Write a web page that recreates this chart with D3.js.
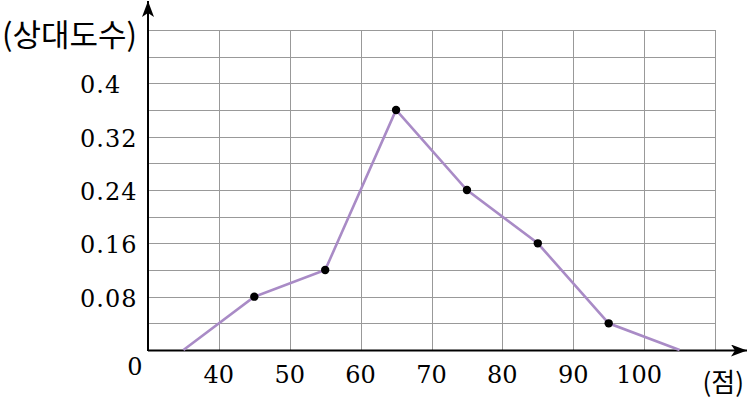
<!DOCTYPE html>
<html>
<head>
<meta charset="utf-8">
<script src="https://cdn.jsdelivr.net/npm/d3@7"></script>
<style>
  body { margin: 0; background: #fff; }
  svg { display: block; }
  .num { font-family: "DejaVu Serif", serif; }
  .kr { font-family: "Noto Sans CJK KR", sans-serif; }
</style>
</head>
<body>
<div id="chart"></div>
<script>
// frequency polygon: class midpoints and relative frequencies
const scores = [35, 45, 55, 65, 75, 85, 95, 105];
const relFreq = [0, 0.08, 0.12, 0.36, 0.24, 0.16, 0.04, 0];
const xTicks = [40, 50, 60, 70, 80, 90, 100];
const yTicks = [0.08, 0.16, 0.24, 0.32, 0.4];
const yTickLabels = ["0.08", "0.16", "0.24", "0.32", "0.4"];

const width = 750, height = 398;
const x0 = 148, y0 = 350;

const svg = d3.select("#chart").append("svg")
    .attr("width", width)
    .attr("height", height);

const x = d3.scaleLinear().domain([30, 110]).range([x0, 715]);
const y = d3.scaleLinear().domain([0, 0.48]).range([y0, 30]);

const grid = svg.append("g").attr("class", "grid")
    .attr("stroke", "#999")
    .attr("stroke-width", 1);

// horizontal grid every 0.04
grid.selectAll(".h")
    .data(d3.range(1, 13).map(i => i * 0.04))
    .enter().append("line")
    .attr("x1", x0).attr("x2", x(110))
    .attr("y1", d => Math.round(y(d)) + 0.5)
    .attr("y2", d => Math.round(y(d)) + 0.5);

// vertical grid every 10 points
grid.selectAll(".v")
    .data(d3.range(40, 111, 10))
    .enter().append("line")
    .attr("x1", d => Math.round(x(d)) + 0.5)
    .attr("x2", d => Math.round(x(d)) + 0.5)
    .attr("y1", y(0.48)).attr("y2", y0);

// axes with arrows
svg.append("defs").append("marker")
    .attr("id", "arrow")
    .attr("viewBox", "0 0 10 10")
    .attr("refX", 10).attr("refY", 5)
    .attr("markerWidth", 16).attr("markerHeight", 12)
    .attr("markerUnits", "userSpaceOnUse")
    .attr("orient", "auto")
    .attr("preserveAspectRatio", "none")
    .append("path")
    .attr("d", "M0,0 L10,5 L0,10 L2.5,5 Z")
    .attr("fill", "#000");

svg.append("line")
    .attr("x1", x0).attr("y1", y0 + 0.5)
    .attr("x2", 747).attr("y2", y0 + 0.5)
    .attr("stroke", "#000").attr("stroke-width", 2)
    .attr("marker-end", "url(#arrow)");

svg.append("line")
    .attr("x1", x0).attr("y1", y0 + 1)
    .attr("x2", x0).attr("y2", 1)
    .attr("stroke", "#000").attr("stroke-width", 2)
    .attr("marker-end", "url(#arrow)");

// polygon
const line = d3.line()
    .x((d, i) => x(scores[i]))
    .y(d => y(d));

svg.append("path")
    .datum(relFreq)
    .attr("fill", "none")
    .attr("stroke", "#a98bc6")
    .attr("stroke-width", 2.6)
    .attr("d", line);

svg.selectAll(".dot")
    .data(relFreq.slice(1, -1))
    .enter().append("circle")
    .attr("cx", (d, i) => x(scores[i + 1]))
    .attr("cy", d => y(d))
    .attr("r", 4.2)
    .attr("fill", "#000");

// labels
svg.selectAll(".xl")
    .data(xTicks)
    .enter().append("text")
    .attr("class", "num")
    .attr("x", d => x(d) - (d === 100 ? 5 : 0))
    .attr("y", 383)
    .attr("text-anchor", "middle")
    .attr("font-size", 24)
    .text(d => d);

svg.selectAll(".yl")
    .data(yTicks)
    .enter().append("text")
    .attr("class", "num")
    .attr("x", 80)
    .attr("y", d => y(d) + 10)
    .attr("font-size", 24)
    .attr("letter-spacing", 1)
    .text((d, i) => yTickLabels[i]);

svg.append("text")
    .attr("class", "num")
    .attr("x", 135).attr("y", 375)
    .attr("text-anchor", "middle")
    .attr("font-size", 24)
    .text("0");

svg.append("text")
    .attr("class", "kr")
    .attr("x", 2).attr("y", 46)
    .attr("font-size", 31)
    .text("(상대도수)");

svg.append("text")
    .attr("class", "kr")
    .attr("x", 744).attr("y", 392)
    .attr("text-anchor", "end")
    .attr("font-size", 26)
    .text("(점)");
</script>
</body>
</html>
